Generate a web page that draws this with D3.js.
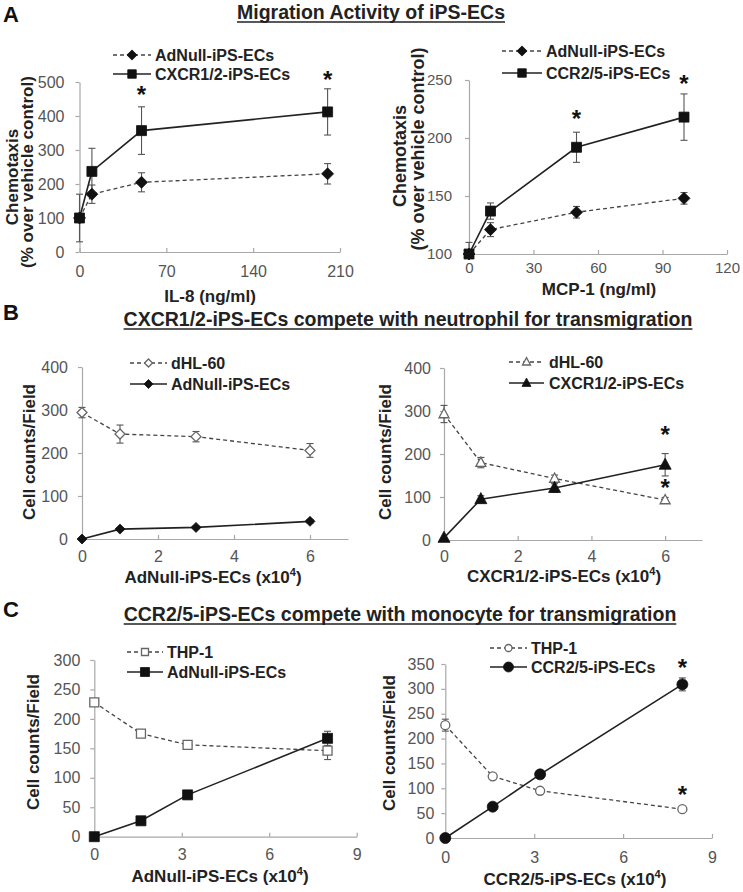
<!DOCTYPE html>
<html><head><meta charset="utf-8">
<script src="https://cdn.jsdelivr.net/npm/d3@7"></script>
<style>body{margin:0;background:#fff}svg{display:block}text{font-family:"Liberation Sans",Arial,Helvetica,sans-serif}</style>
</head><body>
<script>
// ---------- DATA ----------
// Panel A left (IL-8)
const aLeftX = [0, 10, 50, 200];
const aLeftAdNull = [100, 170, 205, 230];
const aLeftAdNullErr = [0, 27, 28, 30];
const aLeftCxcr = [100, 237, 357, 412];
const aLeftCxcrErr = [70, 68, 70, 68];
const aLeftXTicks = [0, 70, 140, 210];
const aLeftYTicks = [0, 100, 200, 300, 400, 500];
const aLeftStars = [[50, 476], [200, 520]];
// Panel A right (MCP-1)
const aRightX = [0, 10, 50, 100];
const aRightAdNull = [100, 121, 136, 148];
const aRightAdNullErr = [0, 6, 5, 5];
const aRightCcr = [100, 137, 192, 218];
const aRightCcrErr = [10, 7, 13, 20];
const aRightXTicks = [0, 30, 60, 90, 120];
const aRightYTicks = [100, 150, 200, 250];
const aRightStars = [[50, 221], [100, 251]];
// Panel B left
const bLeftX = [0, 1, 3, 6];
const bLeftDhl = [294, 244, 238, 206];
const bLeftDhlErr = [12, 21, 12, 16];
const bLeftAdNull = [0, 23, 27, 41];
const bLeftAdNullErr = [0, 3, 3, 4];
const bXTicks = [0, 2, 4, 6];
const bYTicks = [0, 100, 200, 300, 400];
// Panel B right
const bRightX = [0, 1, 3, 6];
const bRightDhl = [293, 180, 143, 93];
const bRightDhlErr = [20, 12, 8, 6];
const bRightCxcr = [5, 95, 121, 175];
const bRightCxcrErr = [0, 8, 10, 26];
const bRightStars = [[6, 256], [6, 132]];
// Panel C left
const cLeftX = [0, 1.6, 3.2, 8];
const cLeftThp = [228, 175, 156, 146];
const cLeftThpErr = [4, 4, 5, 15];
const cLeftAdNull = [0, 27, 71, 167];
const cLeftAdNullErr = [0, 2, 3, 12];
const cXTicks = [0, 3, 6, 9];
const cLeftYTicks = [0, 50, 100, 150, 200, 250, 300];
// Panel C right
const cRightX = [0, 1.6, 3.2, 8];
const cRightThp = [227, 124, 95, 58];
const cRightThpErr = [12, 5, 5, 4];
const cRightCcr = [0, 63, 128, 309];
const cRightCcrErr = [0, 3, 4, 13];
const cRightYTicks = [0, 50, 100, 150, 200, 250, 300, 350];
const cRightStars = [[8, 352], [8, 97]];

// ---------- DRAW ----------
const W = 743, H = 892;
const svg = d3.select("body").append("svg").attr("width", W).attr("height", H);
const FONT = '"Liberation Sans",Arial,Helvetica,sans-serif';

function marker(sel, type, filled, s) {
  const fill = filled ? "#111" : "#fff";
  const stroke = filled ? "#111" : "#666";
  let el;
  if (type === "circle") {
    el = sel.append("circle").attr("r", s);
  } else {
    let p;
    if (type === "diamond") p = `M0,${-s}L${s},0L0,${s}L${-s},0Z`;
    else if (type === "square") p = `M${-s},${-s}H${s}V${s}H${-s}Z`;
    else if (type === "triangle") p = `M0,${-s * 1.1}L${s},${s * 0.75}L${-s},${s * 0.75}Z`;
    el = sel.append("path").attr("d", p);
  }
  el.attr("fill", fill).attr("stroke", stroke).attr("stroke-width", filled ? 0.8 : 1.3);
  return el;
}

function lineStyle(sel, dashed) {
  sel.attr("fill", "none")
    .attr("stroke", dashed ? "#444" : "#222")
    .attr("stroke-width", dashed ? 1.3 : 1.6)
    .attr("stroke-dasharray", dashed ? "4,3" : null);
}

function panel(cfg) {
  const x = d3.scaleLinear().domain(cfg.xDomain).range(cfg.xRange);
  const y = d3.scaleLinear().domain(cfg.yDomain).range(cfg.yRange);
  const g = svg.append("g");

  // axes
  const xa = g.append("g").attr("transform", `translate(0,${cfg.yRange[0]})`)
    .call(d3.axisBottom(x).tickValues(cfg.xTicks).tickSize(-4).tickSizeOuter(0)
      .tickPadding(cfg.xPad).tickFormat(d3.format("d")));
  const ya = g.append("g").attr("transform", `translate(${cfg.xRange[0]},0)`)
    .call(d3.axisLeft(y).tickValues(cfg.yTicks).tickSize(4).tickSizeOuter(0)
      .tickPadding(cfg.yPad).tickFormat(d3.format("d")));
  [xa, ya].forEach(a => {
    a.select(".domain").attr("stroke", "#a8a8a8").attr("stroke-width", 1.2);
    a.selectAll(".tick line").attr("stroke", "#a8a8a8").attr("stroke-width", 1.2);
    a.selectAll(".tick text").attr("fill", "#555").attr("font-size", cfg.tickFont || 16)
      .attr("font-family", FONT);
  });
  // Y tick 0 on x axis at exactly 0: keep

  // series
  cfg.series.forEach(s => {
    const pts = cfg.x.map((xv, i) => [xv, s.y[i], s.err[i]]);
    // error bars
    const eb = g.append("g").attr("stroke", "#555").attr("stroke-width", 1.1);
    pts.forEach(p => {
      if (!p[2]) return;
      const cx = x(p[0]), y1 = y(p[1] + p[2]), y2 = y(Math.max(cfg.yDomain[0], p[1] - p[2]));
      eb.append("line").attr("x1", cx).attr("x2", cx).attr("y1", y1).attr("y2", y2);
      eb.append("line").attr("x1", cx - 3.5).attr("x2", cx + 3.5).attr("y1", y1).attr("y2", y1);
      if (p[1] - p[2] > cfg.yDomain[0])
        eb.append("line").attr("x1", cx - 3.5).attr("x2", cx + 3.5).attr("y1", y2).attr("y2", y2);
    });
    s._pts = pts;
  });
  cfg.series.forEach(s => {
    g.append("path").datum(s._pts)
      .attr("d", d3.line().x(d => x(d[0])).y(d => y(d[1])))
      .call(lineStyle, s.dashed);
  });
  cfg.series.forEach(s => {
    s._pts.forEach(p => {
      const mg = g.append("g").attr("transform", `translate(${x(p[0])},${y(p[1])})`);
      marker(mg, s.marker, s.filled, s.size);
    });
  });

  // stars
  (cfg.stars || []).forEach(st => {
    g.append("text").attr("x", x(st[0])).attr("y", y(st[1]) + 13)
      .attr("text-anchor", "middle").attr("font-size", 24).attr("font-weight", "bold")
      .attr("fill", "#111").attr("font-family", FONT).text("*");
  });

  // legend
  cfg.legend.forEach((L, i) => {
    const s = cfg.series[L.idx];
    const ly = L.y;
    g.append("line").attr("x1", L.x0).attr("x2", L.x1).attr("y1", ly).attr("y2", ly).call(lineStyle, s.dashed);
    const mg = g.append("g").attr("transform", `translate(${(L.x0 + L.x1) / 2},${ly})`);
    marker(mg, s.marker, s.filled, s.legendSize || s.size * 0.85);
    g.append("text").attr("x", L.tx).attr("y", ly).attr("dy", "0.36em")
      .attr("font-size", cfg.legendFont || 16).attr("font-weight", "bold").attr("fill", "#222")
      .attr("font-family", FONT).text(s.name);
  });

  // y label
  cfg.yLabel.forEach(l => {
    g.append("text").attr("transform", `translate(${l.x},${l.y}) rotate(-90)`)
      .attr("text-anchor", "middle").attr("dy", "0.36em")
      .attr("font-size", l.size).attr("font-weight", "bold").attr("fill", "#222")
      .attr("font-family", FONT).text(l.text);
  });
  // x label
  const xl = g.append("text").attr("x", cfg.xLabel.x).attr("y", cfg.xLabel.y)
    .attr("text-anchor", "middle").attr("font-size", cfg.xLabel.size).attr("font-weight", "bold")
    .attr("fill", "#222").attr("font-family", FONT);
  xl.append("tspan").text(cfg.xLabel.text);
  if (cfg.xLabel.sup) {
    xl.append("tspan").attr("font-size", 11).attr("dy", -7).text(cfg.xLabel.sup);
    xl.append("tspan").attr("dy", 7).text(")");
  }
}

function title(text, cx, by, size) {
  const t = svg.append("text").attr("x", cx).attr("y", by).attr("text-anchor", "middle")
    .attr("font-size", size).attr("font-weight", "bold").attr("fill", "#222")
    .attr("font-family", FONT).text(text);
  const w = t.node().getComputedTextLength();
  svg.append("line").attr("x1", cx - w / 2).attr("x2", cx + w / 2)
    .attr("y1", by + 3).attr("y2", by + 3).attr("stroke", "#222").attr("stroke-width", 1.6);
}
function letter(t, x, y) {
  svg.append("text").attr("x", x).attr("y", y).attr("font-size", 22).attr("font-weight", "bold")
    .attr("fill", "#111").attr("font-family", FONT).text(t);
}

letter("A", 3, 22);
letter("B", 3, 320);
letter("C", 3, 617);
title("Migration Activity of iPS-ECs", 371, 19, 19.5);
title("CXCR1/2-iPS-ECs compete with neutrophil for transmigration", 408, 326, 19.5);
title("CCR2/5-iPS-ECs compete with monocyte for transmigration", 400, 621, 19.5);

panel({
  xDomain: [0, 210], xRange: [79.5, 340], yDomain: [0, 500], yRange: [252, 82],
  xTicks: aLeftXTicks, yTicks: aLeftYTicks, xPad: 14, yPad: 11, x: aLeftX,
  series: [
    { name: "AdNull-iPS-ECs", y: aLeftAdNull, err: aLeftAdNullErr, dashed: true, marker: "diamond", filled: true, size: 6 },
    { name: "CXCR1/2-iPS-ECs", y: aLeftCxcr, err: aLeftCxcrErr, dashed: false, marker: "square", filled: true, size: 5 }
  ],
  stars: aLeftStars,
  legend: [{ idx: 0, x0: 113, x1: 151, y: 55, tx: 155 }, { idx: 1, x0: 113, x1: 151, y: 74, tx: 155 }],
  yLabel: [{ text: "Chemotaxis", x: 12, y: 177, size: 17 }, { text: "(% over vehicle control)", x: 27, y: 172, size: 17 }],
  xLabel: { text: "IL-8 (ng/ml)", x: 210, y: 302, size: 17 }
});

panel({
  xDomain: [0, 120], xRange: [469, 727], yDomain: [100, 250], yRange: [254, 80],
  xTicks: aRightXTicks, yTicks: aRightYTicks, xPad: 8, yPad: 13, x: aRightX, tickFont: 15,
  series: [
    { name: "AdNull-iPS-ECs", y: aRightAdNull, err: aRightAdNullErr, dashed: true, marker: "diamond", filled: true, size: 6 },
    { name: "CCR2/5-iPS-ECs", y: aRightCcr, err: aRightCcrErr, dashed: false, marker: "square", filled: true, size: 5 }
  ],
  stars: aRightStars,
  legend: [{ idx: 0, x0: 502, x1: 542, y: 51, tx: 546 }, { idx: 1, x0: 502, x1: 542, y: 73, tx: 546 }],
  yLabel: [{ text: "Chemotaxis", x: 400, y: 156, size: 18 }, { text: "(% over vehicle control)", x: 418, y: 149, size: 18 }],
  xLabel: { text: "MCP-1 (ng/ml)", x: 599, y: 295, size: 17 }
});

panel({
  xDomain: [0, 7], xRange: [82, 348], yDomain: [0, 400], yRange: [539, 367],
  xTicks: bXTicks, yTicks: bYTicks, xPad: 12, yPad: 10, x: bLeftX,
  series: [
    { name: "dHL-60", y: bLeftDhl, err: bLeftDhlErr, dashed: true, marker: "diamond", filled: false, size: 5, legendSize: 4 },
    { name: "AdNull-iPS-ECs", y: bLeftAdNull, err: bLeftAdNullErr, dashed: false, marker: "diamond", filled: true, size: 5, legendSize: 4.5 }
  ],
  legend: [{ idx: 0, x0: 130, x1: 167, y: 363, tx: 171 }, { idx: 1, x0: 130, x1: 167, y: 384, tx: 171 }],
  yLabel: [{ text: "Cell counts/Field", x: 29, y: 452, size: 17 }],
  xLabel: { text: "AdNull-iPS-ECs (x10", sup: "4", x: 213, y: 583, size: 17 }
});

panel({
  xDomain: [0, 7], xRange: [444, 702], yDomain: [0, 400], yRange: [540, 368],
  xTicks: bXTicks, yTicks: bYTicks, xPad: 11, yPad: 9, x: bRightX,
  series: [
    { name: "dHL-60", y: bRightDhl, err: bRightDhlErr, dashed: true, marker: "triangle", filled: false, size: 5, legendSize: 4 },
    { name: "CXCR1/2-iPS-ECs", y: bRightCxcr, err: bRightCxcrErr, dashed: false, marker: "triangle", filled: true, size: 6, legendSize: 4.5 }
  ],
  stars: bRightStars,
  legend: [{ idx: 0, x0: 509, x1: 544, y: 362, tx: 549 }, { idx: 1, x0: 509, x1: 544, y: 383, tx: 549 }],
  yLabel: [{ text: "Cell counts/Field", x: 385, y: 452, size: 17 }],
  xLabel: { text: "CXCR1/2-iPS-ECs (x10", sup: "4", x: 564, y: 582, size: 17 }
});

panel({
  xDomain: [0, 9], xRange: [94.3, 356.7], yDomain: [0, 300], yRange: [836.7, 660],
  xTicks: cXTicks, yTicks: cLeftYTicks, xPad: 12, yPad: 10, x: cLeftX,
  series: [
    { name: "THP-1", y: cLeftThp, err: cLeftThpErr, dashed: true, marker: "square", filled: false, size: 4.5, legendSize: 3.5 },
    { name: "AdNull-iPS-ECs", y: cLeftAdNull, err: cLeftAdNullErr, dashed: false, marker: "square", filled: true, size: 5, legendSize: 4.5 }
  ],
  legend: [{ idx: 0, x0: 127, x1: 163, y: 652, tx: 167 }, { idx: 1, x0: 127, x1: 163, y: 672, tx: 167 }],
  yLabel: [{ text: "Cell counts/Field", x: 33, y: 742, size: 17 }],
  xLabel: { text: "AdNull-iPS-ECs (x10", sup: "4", x: 220, y: 882, size: 17 }
});

panel({
  xDomain: [0, 9], xRange: [445.3, 712], yDomain: [0, 350], yRange: [838, 664],
  xTicks: cXTicks, yTicks: cRightYTicks, xPad: 14, yPad: 7, x: cRightX,
  series: [
    { name: "THP-1", y: cRightThp, err: cRightThpErr, dashed: true, marker: "circle", filled: false, size: 4.5, legendSize: 3.5 },
    { name: "CCR2/5-iPS-ECs", y: cRightCcr, err: cRightCcrErr, dashed: false, marker: "circle", filled: true, size: 5.5, legendSize: 5 }
  ],
  stars: cRightStars,
  legend: [{ idx: 0, x0: 490, x1: 527, y: 648, tx: 531 }, { idx: 1, x0: 490, x1: 527, y: 667, tx: 531 }],
  yLabel: [{ text: "Cell counts/Field", x: 389, y: 743, size: 17 }],
  xLabel: { text: "CCR2/5-iPS-ECs (x10", sup: "4", x: 575, y: 885, size: 17 }
});
</script>
</body></html>
